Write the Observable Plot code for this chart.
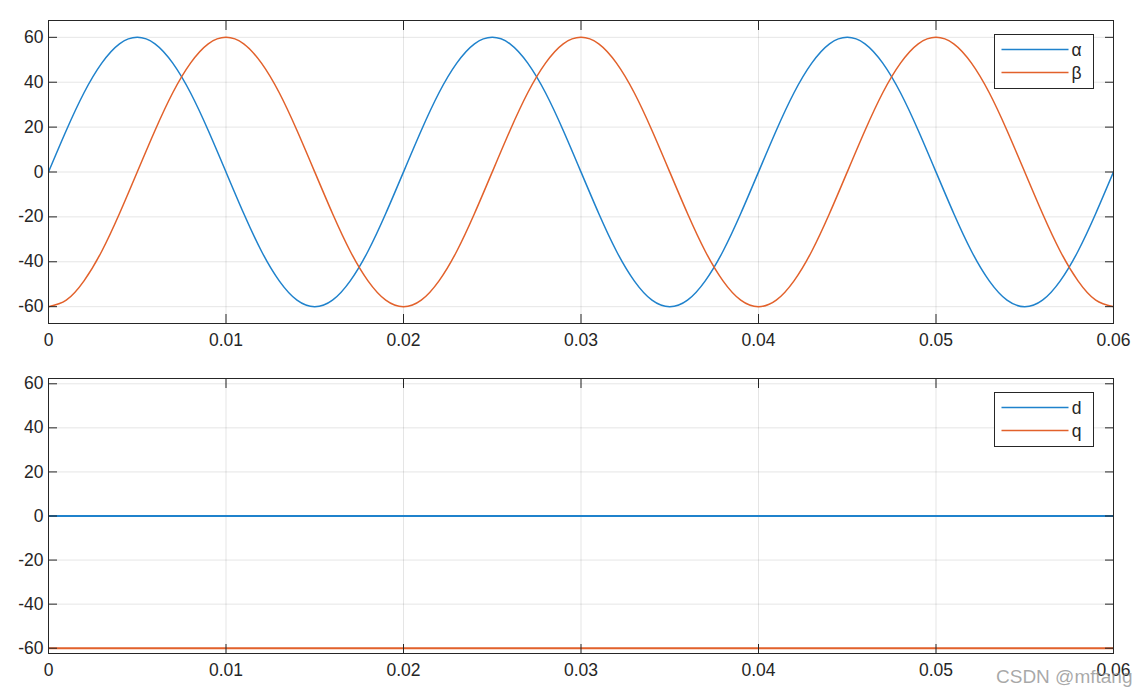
<!DOCTYPE html>
<html>
<head>
<meta charset="utf-8">
<script src="https://cdn.jsdelivr.net/npm/d3@7"></script>
<script src="https://cdn.jsdelivr.net/npm/@observablehq/plot@0.6"></script>
<style>
  html, body { margin: 0; padding: 0; background: #fff; }
  #wrap { position: relative; width: 1148px; height: 699px; overflow: hidden; }
  #wrap svg { display: block; }
  #wm { position: absolute; left: 996px; top: 667px; font: 19px "Liberation Sans", Arial, sans-serif; line-height: 19px; color: rgba(140,140,140,0.75); white-space: nowrap; }
</style>
</head>
<body>
<div id="wrap"><div id="wm">CSDN @mftang</div></div>
<script>
// ---- data ----
const time = [0,0.001,0.002,0.003,0.004,0.005,0.006,0.007,0.008,0.009,
  0.010,0.011,0.012,0.013,0.014,0.015,0.016,0.017,0.018,0.019,
  0.020,0.021,0.022,0.023,0.024,0.025,0.026,0.027,0.028,0.029,
  0.030,0.031,0.032,0.033,0.034,0.035,0.036,0.037,0.038,0.039,
  0.040,0.041,0.042,0.043,0.044,0.045,0.046,0.047,0.048,0.049,
  0.050,0.051,0.052,0.053,0.054,0.055,0.056,0.057,0.058,0.059,0.060];
const alpha = [0,18.5,35.3,48.5,57.1,60,57.1,48.5,35.3,18.5,
  0,-18.5,-35.3,-48.5,-57.1,-60,-57.1,-48.5,-35.3,-18.5,
  0,18.5,35.3,48.5,57.1,60,57.1,48.5,35.3,18.5,
  0,-18.5,-35.3,-48.5,-57.1,-60,-57.1,-48.5,-35.3,-18.5,
  0,18.5,35.3,48.5,57.1,60,57.1,48.5,35.3,18.5,
  0,-18.5,-35.3,-48.5,-57.1,-60,-57.1,-48.5,-35.3,-18.5,0];
const beta = [-60,-57.1,-48.5,-35.3,-18.5,0,18.5,35.3,48.5,57.1,
  60,57.1,48.5,35.3,18.5,0,-18.5,-35.3,-48.5,-57.1,
  -60,-57.1,-48.5,-35.3,-18.5,0,18.5,35.3,48.5,57.1,
  60,57.1,48.5,35.3,18.5,0,-18.5,-35.3,-48.5,-57.1,
  -60,-57.1,-48.5,-35.3,-18.5,0,18.5,35.3,48.5,57.1,
  60,57.1,48.5,35.3,18.5,0,-18.5,-35.3,-48.5,-57.1,-60];
const timeDQ = [0, 0.06];
const dVals = [0, 0];
const qVals = [-60, -60];
const topSeries = ["α", "β"];
const bottomSeries = ["d", "q"];
const xTicks = [0, 0.01, 0.02, 0.03, 0.04, 0.05, 0.06];
const xTickLabels = ["0", "0.01", "0.02", "0.03", "0.04", "0.05", "0.06"];
const yTicks = [-60, -40, -20, 0, 20, 40, 60];
const yTickLabels = ["-60", "-40", "-20", "0", "20", "40", "60"];

const colors = ["#1f82cc", "#e2612b"];
const ink = "#262626";
const font = "'Liberation Sans', Arial, Helvetica, sans-serif";

const fmtX = d => xTickLabels[xTicks.findIndex(v => Math.abs(v - d) < 1e-9)];
const fmtY = d => yTickLabels[yTicks.indexOf(d)];

function makePlot({height, marginTop, marginBottom, yDomain, series, names, lw}) {
  const marks = [
    Plot.gridX(xTicks, {stroke: "#000", strokeOpacity: 0.1}),
    Plot.gridY(yTicks, {stroke: "#000", strokeOpacity: 0.1}),
  ];
  series.forEach((s, i) => {
    marks.push(Plot.line(s.t.map((t, j) => ({t, v: s.v[j]})), {
      x: "t", y: "v", stroke: colors[i], strokeWidth: lw, curve: "natural", clip: true
    }));
  });
  marks.push(
    Plot.frame({stroke: ink, strokeWidth: 1}),
    Plot.axisY(yTicks, {anchor: "left", tickSize: 0, tickPadding: 5, tickFormat: fmtY, label: null, fill: ink}),
    Plot.axisY(yTicks, {anchor: "left", tickSize: -9, fill: "none", stroke: ink, label: null}),
    Plot.axisY(yTicks, {anchor: "right", tickSize: -9, fill: "none", stroke: ink, label: null}),
    Plot.axisX(xTicks, {anchor: "bottom", tickSize: 0, tickPadding: 10, tickFormat: fmtX, label: null, fill: ink}),
    Plot.axisX(xTicks, {anchor: "bottom", tickSize: -9, fill: "none", stroke: ink, label: null}),
    Plot.axisX(xTicks, {anchor: "top", tickSize: -9, fill: "none", stroke: ink, label: null})
  );
  const svg = Plot.plot({
    width: 1148, height,
    marginLeft: 48, marginRight: 35, marginTop, marginBottom,
    x: {domain: [0, 0.06], label: null},
    y: {domain: yDomain, label: null},
    style: {fontSize: "17.5px", fontFamily: font, color: ink, background: "transparent", overflow: "visible"},
    marks
  });
  // legend box
  const g = d3.select(svg).append("g");
  const bx = 994.5, by = marginTop + 14.5;
  g.append("rect").attr("x", bx).attr("y", by).attr("width", 99).attr("height", 54)
    .attr("fill", "#fff").attr("stroke", ink).attr("stroke-width", 1);
  names.forEach((n, i) => {
    const yy = by + 15 + i * 23;
    g.append("line").attr("x1", bx + 7).attr("x2", bx + 74).attr("y1", yy).attr("y2", yy)
      .attr("stroke", colors[i]).attr("stroke-width", 1.5);
    g.append("text").attr("x", bx + 82).attr("y", yy).attr("dy", "0.35em")
      .attr("fill", ink).style("font", `17.5px ${font}`).text(n);
  });
  return svg;
}

const wrapEl = document.getElementById("wrap");
const topPlot = makePlot({
  height: 350, marginTop: 20, marginBottom: 27, yDomain: [-67.5, 67.5],
  series: [{t: time, v: alpha}, {t: time, v: beta}], names: topSeries, lw: 1.5
});
const bottomPlot = makePlot({
  height: 349, marginTop: 28, marginBottom: 46, yDomain: [-62.4, 62.4],
  series: [{t: timeDQ, v: dVals}, {t: timeDQ, v: qVals}], names: bottomSeries, lw: 2
});
wrapEl.insertBefore(bottomPlot, wrapEl.firstChild);
wrapEl.insertBefore(topPlot, wrapEl.firstChild);
</script>
</body>
</html>
